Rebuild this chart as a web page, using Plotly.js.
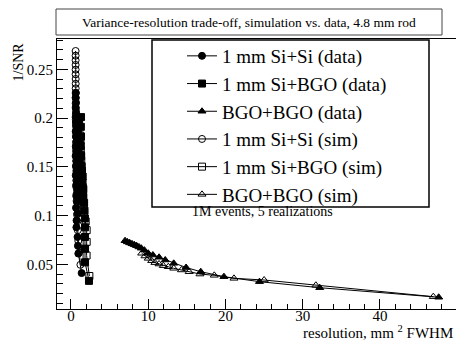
<!DOCTYPE html>
<html>
<head>
<meta charset="utf-8">
<script src="https://cdn.plot.ly/plotly-3.0.1.min.js"></script>
<style>html,body{margin:0;padding:0;background:#fff}#chart{width:456px;height:342px}</style>
</head>
<body>
<div id="chart"></div>
<script>
// ---- data ----
const seriesNames = ["1 mm Si+Si (data)", "1 mm Si+BGO (data)", "BGO+BGO (data)",
                     "1 mm Si+Si (sim)", "1 mm Si+BGO (sim)", "BGO+BGO (sim)"];

const siSiDataX = [0.62,0.60,0.64,0.61,0.66,0.60,0.63,0.68,0.61,0.65,0.70,0.62,0.67,0.60,0.72,0.64,0.70,0.62,0.75,0.66,0.80,0.68,0.78,0.65,0.85,0.72,0.70,0.85,0.90,0.95,1.38];
const siSiDataY = [0.226,0.221,0.216,0.211,0.206,0.201,0.196,0.191,0.186,0.181,0.176,0.171,0.166,0.161,0.156,0.151,0.146,0.141,0.136,0.131,0.126,0.120,0.114,0.108,0.102,0.095,0.088,0.078,0.069,0.061,0.041];

const siBgoDataX = [1.30,1.05,1.28,0.95,1.30,1.10,1.25,0.98,1.32,1.15,1.35,1.40,1.50,1.45,1.60,1.55,1.70,1.75,1.80,1.82,1.81,1.82,1.82,2.33];
const siBgoDataY = [0.201,0.196,0.191,0.186,0.181,0.176,0.171,0.166,0.161,0.156,0.151,0.146,0.140,0.134,0.127,0.120,0.113,0.105,0.097,0.088,0.078,0.066,0.052,0.033];

const bgoDataX = [7.0,7.3,7.6,7.9,8.2,8.5,8.8,9.1,9.5,10.0,10.6,11.4,12.2,13.3,14.9,16.8,19.8,24.4,32.2,47.6];
const bgoDataY = [0.0742,0.0730,0.0720,0.0710,0.0700,0.0690,0.0678,0.0665,0.0645,0.0613,0.0595,0.0572,0.0544,0.0510,0.0467,0.0424,0.0373,0.0322,0.0260,0.0162];

const siSiSimX = [0.60,0.60,0.60,0.60,0.60,0.60,0.61,0.61,0.61,0.62,0.62,0.62,0.63,0.63,0.63,0.64,0.64,0.65,0.65,0.66,0.66,0.67,0.68,0.68,0.69,0.70,0.72,0.73,0.75,0.78,0.82,0.88,0.95,1.05,1.22];
const siSiSimY = [0.2688,0.2640,0.2593,0.2545,0.2497,0.2449,0.2401,0.2352,0.2305,0.2255,0.2205,0.2150,0.2095,0.2040,0.1985,0.1930,0.1870,0.1810,0.1750,0.1690,0.1625,0.1560,0.1495,0.1430,0.1360,0.1290,0.1220,0.1150,0.1075,0.1010,0.0940,0.0850,0.0740,0.0620,0.0495];

const siBgoSimX = [1.20,1.22,1.24,1.26,1.29,1.33,1.38,1.42,1.47,1.49,1.52,1.56,1.60,1.65,1.70,1.90,2.03,2.03,2.02,2.38];
const siBgoSimY = [0.182,0.177,0.172,0.167,0.162,0.156,0.150,0.145,0.140,0.134,0.129,0.124,0.119,0.111,0.103,0.094,0.085,0.073,0.059,0.038];

const bgoSimX = [9.15,9.58,10.0,10.45,10.87,11.4,11.95,12.6,13.3,14.3,15.3,16.7,18.55,21.1,25.0,31.7,46.9];
const bgoSimY = [0.0613,0.0585,0.0561,0.0537,0.0517,0.0503,0.0486,0.0475,0.0459,0.0442,0.0424,0.0400,0.0387,0.0356,0.0339,0.0285,0.0168];

const titleText = "Variance-resolution trade-off, simulation vs. data, 4.8 mm rod";
const noteText = "1M events, 5 realizations";
const xTitleText = "resolution, mm <sup>2</sup> FWHM";
const yTitleText = "1/SNR";

// ---- build ----
const serif = "Liberation Serif";
const xs = [siSiDataX, siBgoDataX, bgoDataX, siSiSimX, siBgoSimX, bgoSimX];
const ys = [siSiDataY, siBgoDataY, bgoDataY, siSiSimY, siBgoSimY, bgoSimY];
const symbols = ["circle", "square", "triangle-up", "circle-open", "square-open", "triangle-up-open"];
const sizes = [7, 7, 7, 7, 7, 7];

const traces = seriesNames.map((n, i) => ({
  x: xs[i], y: ys[i], name: n, type: "scatter", mode: "lines+markers",
  line: {color: "black", width: 1},
  marker: {symbol: symbols[i], size: sizes[i], color: "black", line: {color: "black", width: 1}}
}));

const W = 456, H = 342, L = 57, R = 0, T = 39, B = 33;
const pw = W - L - R, ph = H - T - B;
const px = v => (v - L) / pw;
const py = v => (H - B - v) / ph;

const layout = {
  width: W, height: H,
  margin: {l: L, r: R, t: T, b: B, pad: 0},
  paper_bgcolor: "white", plot_bgcolor: "white",
  font: {family: serif, color: "black", size: 15},
  showlegend: true,
  legend: {
    x: px(182), y: py(37), xanchor: "left", yanchor: "top",
    bgcolor: "rgba(0,0,0,0)", borderwidth: 0,
    font: {family: serif, size: 19, color: "black"}
  },
  xaxis: {
    range: [-1.81, 49.84], showgrid: false, zeroline: false,
    showline: true, linecolor: "black", linewidth: 1, mirror: true,
    ticks: "inside", ticklen: 10, tickcolor: "black", tickwidth: 1,
    tick0: 0, dtick: 10, ticklabelstandoff: -7,
    minor: {dtick: 2, tick0: 0, ticks: "inside", ticklen: 5, tickcolor: "black", showgrid: false},
    tickfont: {family: serif, size: 15, color: "black"}
  },
  yaxis: {
    range: [0.00415, 0.2811], showgrid: false, zeroline: false,
    showline: true, linecolor: "black", linewidth: 1,
    ticks: "inside", ticklen: 11, tickcolor: "black", tickwidth: 1,
    tick0: 0, dtick: 0.05,
    minor: {dtick: 0.01, tick0: 0, ticks: "inside", ticklen: 6, tickcolor: "black", showgrid: false},
    tickfont: {family: serif, size: 15, color: "black"}
  },
  shapes: [
    {type: "rect", xref: "paper", yref: "paper", x0: px(56), x1: px(442), y0: py(35), y1: py(9),
     line: {color: "#444", width: 1}, fillcolor: "white", layer: "above"},
    {type: "rect", xref: "paper", yref: "paper", x0: px(152), x1: px(429), y0: py(207), y1: py(40),
     line: {color: "black", width: 1.5}, fillcolor: "white", layer: "above"}
  ],
  annotations: [
    {text: titleText, xref: "paper", yref: "paper", x: px(249), y: py(22), xanchor: "center", yanchor: "middle",
     showarrow: false, font: {family: serif, size: 13.5, color: "black"}},
    {text: noteText, xref: "paper", yref: "paper", x: px(262), y: py(211), xanchor: "center", yanchor: "middle",
     showarrow: false, font: {family: serif, size: 14, color: "black"}},
    {text: xTitleText, xref: "paper", yref: "paper", x: px(455), y: py(332), xanchor: "right", yanchor: "middle",
     showarrow: false, font: {family: serif, size: 15, color: "black"}},
    {text: yTitleText, xref: "paper", yref: "paper", x: px(18), y: py(41), xanchor: "center", yanchor: "top",
     textangle: -90, showarrow: false, font: {family: serif, size: 14, color: "black"}}
  ]
};

Plotly.newPlot("chart", traces, layout, {displayModeBar: false, staticPlot: true});
</script>
</body>
</html>
